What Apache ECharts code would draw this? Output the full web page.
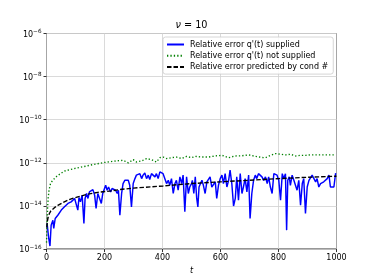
<!DOCTYPE html>
<html><head><meta charset="utf-8">
<script src="https://cdn.jsdelivr.net/npm/echarts@6/dist/echarts.min.js"></script>
<style>html,body{margin:0;padding:0;background:#fff}#c{width:374px;height:280px}</style>
</head><body><div id="c"></div>
<script>
// x tick labels and y tick exponents
const xTicks = [0, 200, 400, 600, 800, 1000];
const yTickExps = [-16, -14, -12, -10, -8, -6];
const seriesNames = ["Relative error q'(t) supplied", "Relative error q'(t) not supplied", "Relative error predicted by cond #"];

// Blue: relative error, q'(t) supplied (t, log10 of error)
const blueT = [2,7,12,16,22,25,30,35,39,45,51,56,62,68,74,79,85,91,97,102,108,112,117,123,129,133,138,143,148,154,160,166,171,177,183,189,194,200,204,209,214,221,226,232,238,244,248,
253,259,264,270,276,282,287,293,299,305,310,316,322,328,333,339,345,351,356,362,368,374,379,385,391,397,402,408,414,420,425,431,437,443,448,454,460,466,471,477,483,489,494,500,
503,508,513,518,522,526,531,536,541,547,553,559,564,570,576,582,587,593,599,605,610,616,622,628,633,639,645,651,656,662,668,674,679,685,691,697,702,708,714,720,725,731,737,743,748,
749,755,761,766,772,778,784,790,795,801,807,813,818,824,828,832,837,841,847,853,859,864,870,876,882,887,893,899,905,910,916,922,928,933,939,945,951,956,962,968,974,979,985,991,997];
const blueLog10 = [-14.81,-15.43,-15.86,-14.89,-14.66,-15.04,-14.58,-14.66,-14.43,-14.50,-14.19,-14.27,-14.04,-14.11,-13.88,-13.96,-13.81,-13.88,-13.65,-13.73,-14.19,-13.61,-13.81,-13.50,-14.81,-13.65,-13.42,-13.65,-13.35,-13.42,-13.24,-13.50,-14.11,-13.42,-13.65,-13.88,-13.42,-13.50,-13.04,-13.27,-13.12,-13.35,-13.19,-13.12,-13.27,-13.42,-13.27,
-14.43,-13.42,-12.96,-12.81,-12.88,-12.81,-13.04,-14.04,-12.96,-12.73,-12.57,-12.65,-12.50,-12.73,-12.57,-12.47,-12.73,-12.57,-12.77,-12.50,-12.42,-12.65,-12.50,-12.73,-12.42,-12.34,-12.50,-12.57,-12.96,-12.81,-13.04,-12.73,-13.42,-12.96,-12.81,-13.27,-12.65,-12.96,-12.57,-14.27,-12.65,-13.42,-13.12,-12.96,
-12.81,-13.42,-12.65,-13.65,-14.04,-13.12,-12.96,-12.81,-13.04,-13.42,-12.88,-12.96,-12.65,-13.12,-13.19,-12.88,-13.65,-13.04,-12.73,-12.57,-12.96,-12.50,-13.12,-12.81,-12.34,-12.96,-14.00,-13.65,-12.65,-13.73,-12.50,-13.42,-13.12,-12.73,-13.35,-12.57,-14.58,-13.42,-12.81,-12.57,-12.73,-12.50,-12.50,-12.65,-12.57,
-12.81,-12.65,-12.96,-12.65,-13.12,-13.42,-12.50,-12.50,-12.57,-12.81,-13.73,-12.50,-12.73,-12.50,-15.12,-12.81,-12.65,-13.04,-12.57,-12.81,-12.73,-13.27,-12.81,-13.96,-12.96,-12.73,-14.35,-13.12,-12.81,-12.73,-12.57,-12.50,-12.88,-12.73,-13.12,-12.96,-13.04,-12.88,-12.96,-12.73,-12.57,-13.12,-13.19,-13.12,-12.48];

// Green: relative error, q'(t) not supplied
const greenT = [0,2,4,6,9,14,22,37,62,100,130,160,200,241,264,282,299,310,328,345,362,379,391,402,414,431,448,466,483,500,513,536,559,582,605,628,651,674,697,720,748,755,772,790,807,824,841,859,876,893,910,945,997];
const greenLog10 = [-15.7,-14.8,-14.0,-13.6,-13.25,-12.95,-12.8,-12.6,-12.38,-12.25,-12.17,-12.08,-11.98,-11.91,-11.88,-12.0,-11.85,-11.96,-11.91,-11.8,-11.85,-11.96,-11.76,-11.73,-11.8,-11.76,-11.73,-11.8,-11.7,-11.76,-11.7,-11.73,-11.73,-11.68,-11.65,-11.76,-11.68,-11.67,-11.63,-11.7,-11.76,-11.76,-11.65,-11.57,-11.6,-11.63,-11.6,-11.68,-11.65,-11.65,-11.63,-11.63,-11.63];

// Black dashed: error predicted by condition number
const dashT = [1,3,6,10,15,20,30,39,55,74,90,108,142,177,223,252,300,402,500,600,748,802,900,1000];
const dashLog10 = [-15.0,-14.7,-14.5,-14.35,-14.23,-14.15,-14.05,-13.97,-13.85,-13.73,-13.65,-13.58,-13.45,-13.37,-13.30,-13.24,-13.17,-13.07,-12.96,-12.88,-12.77,-12.73,-12.67,-12.62];

const toPairs = (ts, ls) => ts.map((t, i) => [t, Math.pow(10, ls[i])]);
const FONT = 'DejaVu Sans';
const chart = echarts.init(document.getElementById('c'), null, {renderer: 'canvas'});
chart.setOption({
  animation: false,
  backgroundColor: '#fff',
  textStyle: {fontFamily: FONT},
  grid: {left: 46.5, right: 37.5, top: 33.5, bottom: 30.5, show: true, borderColor: '#000', borderWidth: 1, backgroundColor: 'transparent'},
  graphic: [{
    type: 'text', x: 191.5, y: 25,
    style: {text: '{i|ν} = 10', fontFamily: FONT, fontSize: 9.7, fill: '#000', align: 'center', verticalAlign: 'middle',
      rich: {i: {fontStyle: 'italic', fontFamily: FONT, fontSize: 9.7}}}
  }],
  legend: {
    orient: 'vertical', left: 163, top: 37,
    padding: [3.5, 5, 3, 3], itemWidth: 17, itemHeight: 8, itemGap: 3.3,
    backgroundColor: 'rgba(255,255,255,0.85)', borderColor: '#cccccc', borderWidth: 0.8, borderRadius: 2.5,
    itemStyle: {opacity: 0, borderWidth: 0},
    textStyle: {fontFamily: FONT, fontSize: 8, color: '#000', padding: [0, 0, 0, 1]},
    data: seriesNames
  },
  xAxis: {
    type: 'value', min: xTicks[0], max: xTicks[xTicks.length - 1], interval: 200,
    name: 't', nameLocation: 'middle', nameGap: 15.5,
    nameTextStyle: {fontFamily: FONT, fontStyle: 'italic', fontSize: 8, color: '#000'},
    axisLine: {show: false},
    axisTick: {show: true, inside: false, length: 3, lineStyle: {color: '#000', width: 0.8}},
    axisLabel: {fontFamily: FONT, fontSize: 8, color: '#000', margin: 5, formatter: v => xTicks.includes(v) ? String(v) : ''},
    splitLine: {show: true, lineStyle: {color: '#d0d0d0', width: 0.8}}
  },
  yAxis: {
    type: 'log', logBase: 10, min: Math.pow(10, yTickExps[0]), max: Math.pow(10, yTickExps[yTickExps.length - 1]), interval: 2,
    axisLine: {show: false},
    axisTick: {show: true, inside: false, length: 3, lineStyle: {color: '#000', width: 0.8}},
    axisLabel: {
      fontFamily: FONT, fontSize: 8, color: '#000', margin: 5,
      formatter: v => {
        const e = Math.round(Math.log10(v));
        if (!yTickExps.includes(e)) return '';
        return '{b|10}{s|' + (e < 0 ? '\u2212' + (-e) : e) + '}';
      },
      rich: {
        b: {fontFamily: FONT, fontSize: 8, color: '#000', lineHeight: 10, verticalAlign: 'bottom'},
        s: {fontFamily: FONT, fontSize: 5.7, color: '#000', lineHeight: 5, verticalAlign: 'top'}
      }
    },
    splitLine: {show: true, lineStyle: {color: '#d0d0d0', width: 0.8}}
  },
  series: [
    {name: seriesNames[0], type: 'line', data: toPairs(blueT, blueLog10), symbol: 'none', lineStyle: {color: '#0000ff', width: 1.45}, itemStyle: {color: '#0000ff'}},
    {name: seriesNames[1], type: 'line', data: toPairs(greenT, greenLog10), symbol: 'none', lineStyle: {color: '#008000', width: 1.35, type: [1.3, 2.1]}, itemStyle: {color: '#008000'}},
    {name: seriesNames[2], type: 'line', data: toPairs(dashT, dashLog10), symbol: 'none', lineStyle: {color: '#000', width: 1.4, type: [4.5, 2]}, itemStyle: {color: '#000'}}
  ]
});
</script></body></html>
